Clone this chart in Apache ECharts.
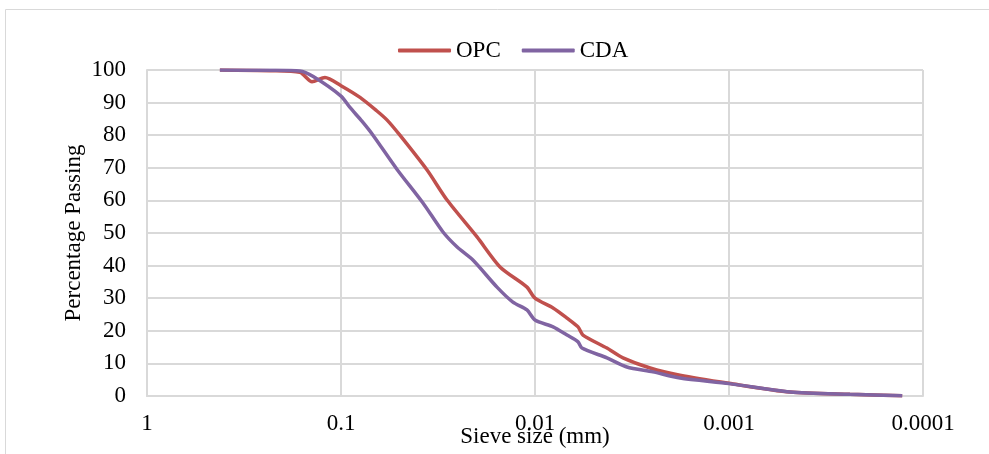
<!DOCTYPE html>
<html><head><meta charset="utf-8">
<script src="https://cdn.jsdelivr.net/npm/echarts@6/dist/echarts.min.js"></script>
<style>html,body{margin:0;padding:0;background:#fff}#c{width:989px;height:454px}</style>
</head><body><div id="c"></div>
<script>
const seriesNames = ['OPC', 'CDA'];
const xTickLabels = ['1', '0.1', '0.01', '0.001', '0.0001'];
const opcSize = [0.421, 0.232, 0.163, 0.141, 0.121, 0.1, 0.0798, 0.0655, 0.058, 0.0497, 0.036, 0.0284, 0.0199, 0.0151, 0.011, 0.01, 0.00807, 0.00684, 0.006, 0.00566, 0.00426, 0.00352, 0.00255, 0.00179, 0.001, 0.000485, 0.000238, 0.000128];
const opcPassing = [100, 99.8, 99.3, 96.4, 97.7, 95.2, 91.6, 87.5, 84.7, 80, 69.3, 60.1, 48.8, 39.5, 33.4, 30, 27, 23.9, 21.2, 18.7, 14.7, 11.7, 8.6, 6.4, 3.9, 1.2, 0.5, 0.1];
const cdaSize = [0.421, 0.232, 0.163, 0.139, 0.1, 0.0899, 0.078, 0.0684, 0.0514, 0.0378, 0.0298, 0.0252, 0.0209, 0.0157, 0.013, 0.011, 0.01, 0.00807, 0.00684, 0.006, 0.00573, 0.00426, 0.00336, 0.00247, 0.00179, 0.001, 0.000485, 0.000238, 0.000128];
const cdaPassing = [100, 99.9, 99.7, 98, 92, 88.5, 84.3, 80, 69.5, 59.2, 50.3, 45.7, 41.7, 33.4, 28.8, 26.4, 23.3, 21.2, 18.7, 16.6, 14.7, 11.7, 8.9, 7.4, 5.5, 3.8, 1.2, 0.5, 0.1];

const pair = (xs, ys) => xs.map((x, i) => [x, ys[i]]);
const font = 'Liberation Serif, Times New Roman, serif';
const fs = 23;
const chart = echarts.init(document.getElementById('c'));
chart.setOption({
  animation: false,
  textStyle: { fontFamily: font },
  graphic: [{ type: 'rect', shape: { x: 5.5, y: 9.5, width: 1000, height: 500 }, style: { fill: 'none', stroke: '#d9d9d9', lineWidth: 1 } }],
  legend: {
    top: 34, left: 393, itemWidth: 53, itemHeight: 4, itemGap: 21, icon: 'roundRect',
    textStyle: { fontFamily: font, fontSize: fs, color: '#000' },
    data: seriesNames
  },
  grid: { left: 147, right: 66, top: 70, bottom: 58, outerBoundsMode: 'none', containLabel: false },
  xAxis: {
    type: 'log', logBase: 10, min: 0.0001, max: 1, inverse: true,
    name: 'Sieve size (mm)', nameLocation: 'middle', nameGap: 29, nameMoveOverlap: false,
    nameTextStyle: { fontFamily: font, fontSize: fs, color: '#000' },
    axisLine: { lineStyle: { color: '#d9d9d9', width: 2 } },
    axisTick: { show: false },
    splitLine: { show: true, lineStyle: { color: '#d9d9d9', width: 2 } },
    axisLabel: {
      fontFamily: font, fontSize: fs, color: '#000', margin: 16,
      formatter: v => xTickLabels[-Math.round(Math.log10(v))]
    }
  },
  yAxis: {
    type: 'value', min: 0, max: 100, interval: 10,
    name: 'Percentage Passing', nameLocation: 'middle', nameGap: 62, nameMoveOverlap: false,
    nameTextStyle: { fontFamily: font, fontSize: fs, color: '#000' },
    axisLine: { show: true, lineStyle: { color: '#d9d9d9', width: 2 } },
    axisTick: { show: false },
    splitLine: { lineStyle: { color: '#d9d9d9', width: 2 } },
    axisLabel: { fontFamily: font, fontSize: fs, color: '#000', margin: 21 }
  },
  series: [
    { name: seriesNames[0], type: 'line', data: pair(opcSize, opcPassing), smooth: 0.25, showSymbol: false, lineStyle: { color: '#c0504d', width: 3.5 }, itemStyle: { color: '#c0504d' } },
    { name: seriesNames[1], type: 'line', data: pair(cdaSize, cdaPassing), smooth: 0.25, showSymbol: false, lineStyle: { color: '#8064a2', width: 3.5 }, itemStyle: { color: '#8064a2' } }
  ]
});
</script></body></html>
